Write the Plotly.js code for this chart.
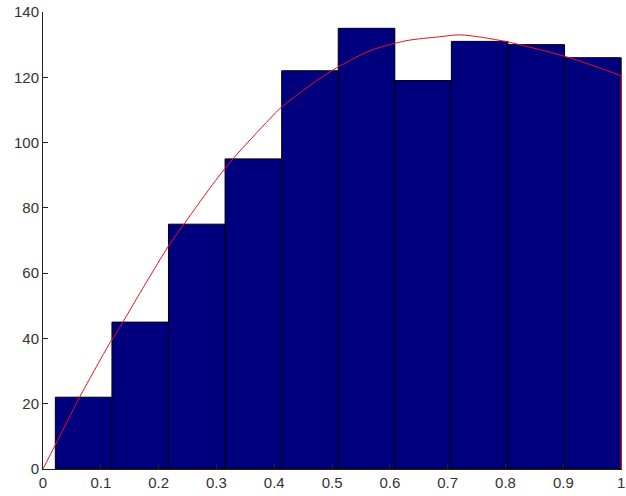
<!DOCTYPE html>
<html>
<head>
<meta charset="utf-8">
<script src="https://cdn.plot.ly/plotly-3.0.1.min.js"></script>
<style>
html,body{margin:0;padding:0;background:#fff;}
#chart{width:626px;height:496px;}
</style>
</head>
<body>
<div id="chart"></div>
<script>
// Histogram bins (centers) and counts
const binCenters = [0.0703, 0.1682, 0.2660, 0.3639, 0.4618, 0.5596, 0.6575, 0.7553, 0.8532, 0.9511];
const binWidth = 0.0979;
const counts = [22, 45, 75, 95, 122, 135, 119, 131, 130, 126];

// Fitted red curve
const curveX = [0, 0.021, 0.0634, 0.1183, 0.1297, 0.167, 0.216, 0.245, 0.2986, 0.3285, 0.3919, 0.412, 0.461, 0.5014, 0.565, 0.628, 0.6858, 0.7204, 0.7607, 0.807, 0.905, 1.0];
const curveY = [0, 7.3, 22, 39.4, 42.5, 53.7, 68, 75.3, 88.4, 95, 107.2, 110.8, 117.4, 122.2, 128.1, 131.2, 132.4, 133.0, 132.2, 130.7, 126.3, 120.5];
// Vertical drop at the right end
const dropX = [1.0, 1.0];
const dropY = [120.5, 0];

const xTicks = [0, 0.1, 0.2, 0.3, 0.4, 0.5, 0.6, 0.7, 0.8, 0.9, 1];
const yTicks = [0, 20, 40, 60, 80, 100, 120, 140];

const traces = [
  {
    type: 'bar',
    x: binCenters,
    y: counts,
    width: binWidth,
    marker: {color: '#00007f', line: {color: '#000000', width: 1}},
    hoverinfo: 'x+y'
  },
  {
    type: 'scatter',
    mode: 'lines',
    x: curveX,
    y: curveY,
    line: {color: '#e8101a', width: 1, shape: 'spline', smoothing: 0.8},
    hoverinfo: 'x+y'
  },
  {
    type: 'scatter',
    mode: 'lines',
    x: dropX,
    y: dropY,
    line: {color: '#e8101a', width: 1},
    hoverinfo: 'x+y'
  }
];

const axisFont = {family: 'Liberation Sans, Arial, sans-serif', size: 15, color: '#333'};

const layout = {
  width: 626,
  height: 496,
  margin: {l: 43, r: 4, t: 12, b: 27, pad: 0},
  paper_bgcolor: '#ffffff',
  plot_bgcolor: '#ffffff',
  showlegend: false,
  bargap: 0,
  xaxis: {
    range: [0, 1.0015],
    tickvals: xTicks,
    ticktext: xTicks.map(String),
    ticks: 'inside',
    ticklen: 5,
    tickcolor: '#222',
    showline: true,
    linecolor: '#222',
    linewidth: 1,
    showgrid: false,
    zeroline: false,
    tickfont: axisFont,
    ticklabeloverflow: 'allow',
    fixedrange: true
  },
  yaxis: {
    range: [0, 140],
    tickvals: yTicks,
    ticktext: yTicks.map(String),
    ticks: 'inside',
    ticklen: 5,
    tickcolor: '#222',
    showline: true,
    linecolor: '#222',
    linewidth: 1,
    showgrid: false,
    zeroline: false,
    tickfont: axisFont,
    ticklabeloverflow: 'allow',
    fixedrange: true
  }
};

Plotly.newPlot('chart', traces, layout, {displayModeBar: false, staticPlot: true});
</script>
</body>
</html>
